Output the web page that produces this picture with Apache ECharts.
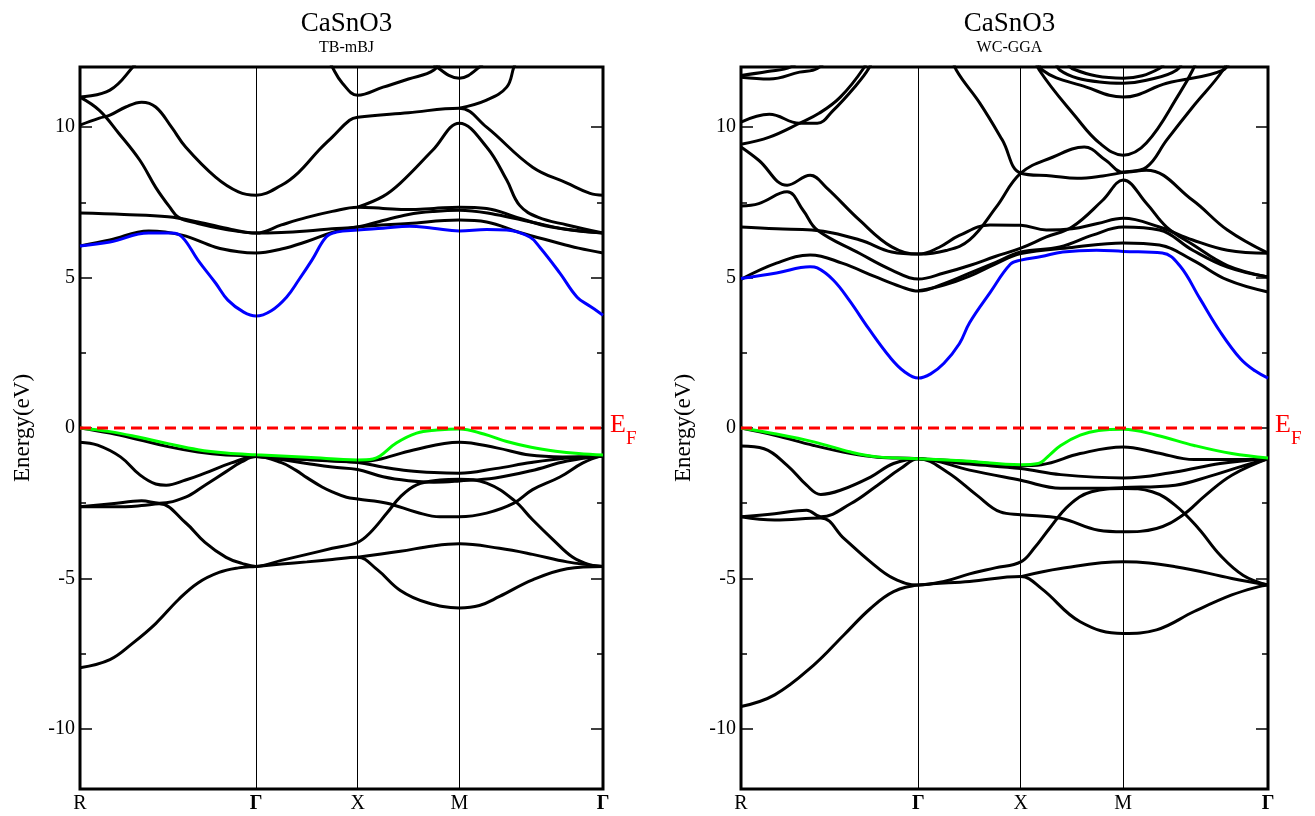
<!DOCTYPE html>
<html>
<head>
<meta charset="utf-8">
<script src="https://cdn.jsdelivr.net/npm/echarts@6/dist/echarts.min.js"></script>
<style>
  html, body { margin: 0; padding: 0; background: #fff; }
  #chart { width: 1315px; height: 816px; }
</style>
</head>
<body>
<div id="chart"></div>
<script>
// High-symmetry path R–Γ–X–M–Γ: cumulative |k| (units of π/a)
const K_POS = [0, 1.732, 2.732, 3.732, 5.146];
const K_LABELS = ['R', 'Γ', 'X', 'M', 'Γ'];
const Y_MAJOR = [-10, -5, 0, 5, 10];
const Y_MINOR = [-7.5, -2.5, 2.5, 7.5];
const PANEL_TITLES = ['CaSnO3', 'CaSnO3'];
const PANEL_SUBTITLES = ['TB-mBJ', 'WC-GGA'];

// Bands as [path parameter, E (eV)]; path parameter 0=R, 1=Γ, 2=X, 3=M, 4=Γ

// ---- TB-mBJ ----
const mbjVBM = [[0,0],[0.17,-0.12],[0.33,-0.3],[0.5,-0.52],[0.67,-0.72],[0.83,-0.83],[1,-0.89],[1.5,-0.97],[2,-1.06],[2.15,-1.03],[2.22,-0.93],[2.38,-0.5],[2.58,-0.17],[2.78,-0.07],[3,-0.03],[3.17,-0.2],[3.33,-0.45],[3.5,-0.64],[3.67,-0.77],[3.83,-0.85],[4,-0.9]];
const mbjCBM = [[0,6.05],[0.17,6.18],[0.39,6.48],[0.52,6.48],[0.58,6.35],[0.67,5.58],[0.77,4.82],[0.84,4.25],[0.93,3.85],[1,3.72],[1.15,3.9],[1.3,4.35],[1.42,4.92],[1.55,5.58],[1.69,6.35],[1.79,6.51],[2,6.58],[2.25,6.64],[2.51,6.71],[2.74,6.64],[3,6.55],[3.19,6.6],[3.33,6.58],[3.49,6.35],[3.56,6.01],[3.7,5.15],[3.82,4.35],[3.91,4.05],[4,3.75]];
const mbjV2 = [[0,0],[0.17,-0.17],[0.33,-0.38],[0.5,-0.62],[0.67,-0.8],[0.83,-0.9],[1,-0.93],[1.5,-1.05],[2,-1.15],[2.25,-1.3],[2.5,-1.42],[2.75,-1.48],[3,-1.5],[3.25,-1.35],[3.5,-1.15],[3.75,-1.0],[4,-0.93]];
const mbjV3 = [[0,-0.47],[0.1,-0.57],[0.23,-0.96],[0.34,-1.56],[0.43,-1.86],[0.49,-1.9],[0.6,-1.73],[0.71,-1.5],[0.86,-1.16],[1,-0.95],[1.25,-1.05],[1.5,-1.18],[1.75,-1.3],[2,-1.38],[2.25,-1.62],[2.5,-1.75],[2.75,-1.8],[3,-1.76],[3.25,-1.66],[3.5,-1.42],[3.75,-1.1],[4,-0.93]];
const mbjV4 = [[0,-2.62],[0.18,-2.52],[0.35,-2.42],[0.45,-2.5],[0.6,-2.3],[0.71,-1.9],[0.83,-1.45],[0.92,-1.12],[1,-0.95],[1.25,-1.15],[1.39,-1.4],[1.5,-1.65],[1.65,-1.96],[1.75,-2.12],[1.89,-2.3],[2,-2.36],[2.29,-2.5],[2.58,-2.8],[2.81,-2.95],[3,-2.95],[3.19,-2.83],[3.38,-2.5],[3.51,-2.05],[3.7,-1.63],[3.86,-1.16],[4,-0.9]];
const mbjV5 = [[0,-2.62],[0.2,-2.62],[0.35,-2.58],[0.45,-2.52],[0.6,-3.15],[0.71,-3.8],[0.83,-4.3],[0.92,-4.5],[1,-4.6],[1.25,-4.4],[1.5,-4.2],[1.75,-4.0],[2,-3.8],[2.12,-3.49],[2.29,-2.82],[2.42,-2.29],[2.58,-1.89],[2.81,-1.73],[3,-1.7],[3.19,-1.83],[3.38,-2.4],[3.51,-3.05],[3.65,-3.7],[3.79,-4.3],[3.91,-4.55],[4,-4.6]];
const mbjV6 = [[0,-7.97],[0.17,-7.7],[0.3,-7.15],[0.43,-6.5],[0.56,-5.7],[0.67,-5.15],[0.79,-4.8],[0.9,-4.65],[1,-4.6],[1.25,-4.52],[1.5,-4.45],[1.75,-4.37],[2,-4.3],[2.19,-4.7],[2.42,-5.4],[2.68,-5.8],[3,-5.98],[3.14,-5.9],[3.28,-5.6],[3.51,-5.05],[3.75,-4.68],[4,-4.6]];
const mbjV7 = [[2,-4.3],[2.42,-4.1],[2.74,-3.92],[3,-3.85],[3.28,-4.0],[3.51,-4.2],[3.75,-4.45],[4,-4.6]];
const mbjV8 = [[1,-0.95],[1.5,-1.05],[2,-1.12],[2.19,-1.06],[2.55,-0.73],[3,-0.47],[3.26,-0.66],[3.49,-0.9],[3.72,-0.96],[4,-0.93]];
const mbjC2 = [[0,6.05],[0.17,6.25],[0.39,6.55],[0.58,6.41],[0.77,6.01],[0.9,5.86],[1,5.82],[1.25,5.95],[1.5,6.2],[1.75,6.5],[2,6.68],[2.5,6.8],[3,6.91],[3.19,6.85],[3.42,6.5],[3.65,6.2],[3.83,5.98],[4,5.82]];
const mbjC3 = [[0,7.15],[0.25,7.1],[0.5,7.02],[0.67,6.85],[0.86,6.6],[1,6.48],[1.25,6.75],[1.5,7.0],[1.75,7.2],[2,7.34],[2.25,7.3],[2.5,7.26],[2.75,7.3],[3,7.34],[3.19,7.3],[3.4,7.0],[3.64,6.68],[4,6.48]];
const mbjC4 = [[0,11.0],[0.11,10.56],[0.22,9.8],[0.34,8.9],[0.43,8.0],[0.51,7.34],[0.56,7.0],[0.67,6.8],[0.83,6.6],[1,6.48],[1.25,6.5],[1.5,6.55],[1.75,6.62],[2,6.68],[2.25,6.9],[2.5,7.1],[2.75,7.2],[3,7.24],[3.25,7.1],[3.5,6.85],[3.75,6.6],[4,6.48]];
const mbjC5 = [[0,10.07],[0.11,10.3],[0.17,10.4],[0.26,10.67],[0.35,10.83],[0.43,10.67],[0.52,10.0],[0.6,9.34],[0.77,8.34],[0.9,7.85],[1,7.74],[1.25,8.07],[1.42,8.5],[1.62,9.24],[1.75,9.67],[1.92,10.23],[2,10.33],[2.5,10.48],[3,10.63],[3.19,10.0],[3.51,8.67],[3.75,8.14],[3.91,7.8],[4,7.74]];
const mbjC6 = [[2,7.34],[2.25,7.7],[2.42,8.14],[2.74,9.24],[3,10.13],[3.19,9.34],[3.33,8.24],[3.42,7.4],[3.55,7.0],[3.75,6.75],[4,6.48]];
const mbjC7 = [[0,11.0],[0.17,11.23],[0.3,12.0],[0.36,12.5]];
const mbjC8 = [[1.68,12.5],[1.75,12.0],[1.85,11.46],[2,11.06],[2.25,11.33],[2.5,11.6],[2.75,11.9],[2.85,12.4]];
const mbjC9 = [[2.7,12.4],[2.78,12.0],[3,11.63],[3.14,12.0],[3.2,12.4]];
const mbjC10 = [[3,10.63],[3.19,10.9],[3.33,11.33],[3.38,12.0],[3.42,12.5]];

// ---- WC-GGA ----
const ggaVBM = [[0,0],[0.19,-0.19],[0.41,-0.46],[0.62,-0.8],[0.77,-0.96],[1,-1.02],[1.46,-1.1],[2,-1.22],[2.17,-1.18],[2.28,-0.9],[2.39,-0.58],[2.58,-0.24],[2.76,-0.08],[3,-0.04],[3.23,-0.24],[3.49,-0.58],[3.75,-0.85],[4,-1.0]];
const ggaCBM = [[0,4.97],[0.2,5.15],[0.39,5.36],[0.43,5.32],[0.52,4.92],[0.61,4.25],[0.72,3.3],[0.84,2.35],[0.92,1.88],[1,1.66],[1.12,1.8],[1.25,2.15],[1.4,2.8],[1.5,3.5],[1.7,4.5],[1.9,5.45],[2,5.58],[2.2,5.7],[2.41,5.85],[2.74,5.91],[3,5.87],[3.27,5.82],[3.39,5.4],[3.53,4.3],[3.67,3.2],[3.81,2.3],[3.91,1.9],[4,1.66]];
const ggaV2 = [[0,0],[0.19,-0.24],[0.41,-0.58],[0.62,-0.85],[0.77,-0.97],[1,-1.02],[1.5,-1.2],[2,-1.35],[2.39,-1.55],[3,-1.66],[3.36,-1.46],[3.67,-1.18],[4,-1.02]];
const ggaV3 = [[0,-0.6],[0.13,-0.69],[0.26,-1.24],[0.37,-1.9],[0.45,-2.21],[0.56,-2.07],[0.73,-1.63],[0.86,-1.18],[1,-1.02],[1.5,-1.4],[2,-1.74],[2.39,-2.0],[2.76,-2.0],[3,-1.98],[3.36,-1.9],[3.6,-1.6],[3.8,-1.3],[4,-1.02]];
const ggaV4 = [[0,-2.95],[0.19,-2.85],[0.37,-2.73],[0.45,-2.95],[0.62,-2.51],[0.77,-1.9],[0.9,-1.35],[1,-1.02],[1.28,-1.46],[1.57,-2.23],[1.8,-2.79],[2,-2.88],[2.39,-3.0],[2.76,-3.4],[3,-3.45],[3.23,-3.34],[3.41,-2.9],[3.57,-2.23],[3.75,-1.57],[4,-1.02]];
const ggaV5 = [[0,-2.95],[0.19,-3.06],[0.45,-2.99],[0.58,-3.67],[0.73,-4.45],[0.86,-5.0],[1,-5.22],[1.25,-5.1],[1.5,-4.85],[1.75,-4.65],[2,-4.45],[2.13,-4.0],[2.28,-3.34],[2.47,-2.57],[2.69,-2.12],[3,-2.01],[3.2,-2.12],[3.36,-2.57],[3.52,-3.34],[3.67,-4.23],[3.83,-4.9],[4,-5.22]];
const ggaV6 = [[0,-9.26],[0.19,-8.87],[0.41,-7.88],[0.58,-6.88],[0.73,-6.0],[0.86,-5.44],[1,-5.22],[1.5,-5.1],[2,-4.94],[2.2,-5.33],[2.58,-6.44],[3,-6.83],[3.23,-6.71],[3.49,-6.1],[3.75,-5.55],[3.93,-5.28],[4,-5.22]];
const ggaV7 = [[2,-4.94],[2.39,-4.67],[3,-4.45],[3.36,-4.61],[3.75,-5.0],[4,-5.22]];
const ggaV8 = [[1,-1.02],[1.5,-1.12],[2,-1.25],[2.2,-1.22],[2.58,-0.85],[3,-0.63],[3.23,-0.82],[3.49,-1.05],[3.75,-1.05],[4,-1.02]];
const ggaC2 = [[0,6.68],[0.2,6.62],[0.4,6.58],[0.67,6.25],[0.85,5.85],[1,5.78],[1.2,6.0],[1.4,6.4],[1.7,6.75],[2,6.74],[2.25,6.58],[2.5,6.62],[2.75,6.8],[3,6.97],[3.25,6.68],[3.48,6.25],[3.72,5.91],[4,5.81]];
const ggaC3 = [[0,7.38],[0.1,7.46],[0.26,7.85],[0.35,7.24],[0.43,6.58],[0.67,5.8],[0.85,5.25],[1,4.95],[1.25,5.15],[1.5,5.4],[1.75,5.7],[2,5.98],[2.25,6.35],[2.5,6.68],[2.8,7.57],[3,8.24],[3.16,7.47],[3.3,6.68],[3.48,6.1],[3.72,5.4],[4,5.02]];
const ggaC4 = [[0,9.34],[0.1,8.9],[0.26,8.07],[0.39,8.4],[0.48,8.0],[0.67,6.9],[0.85,6.02],[1,5.78],[1.27,5.9],[1.5,6.25],[1.76,7.34],[2,8.47],[2.31,9.0],[2.62,9.34],[2.83,8.9],[3,8.5],[3.16,8.57],[3.48,7.57],[3.72,6.58],[4,5.81]];
const ggaC5 = [[0,4.94],[0.2,5.48],[0.39,5.75],[0.57,5.48],[0.76,5.02],[0.9,4.7],[1,4.55],[1.25,4.8],[1.5,5.15],[1.75,5.5],[2,5.85],[2.38,6.02],[2.7,6.41],[3,6.68],[3.25,6.58],[3.48,5.91],[3.72,5.35],[4,5.02]];
const ggaC6 = [[1,4.56],[1.25,4.75],[1.5,5.05],[1.75,5.45],[2,5.8],[2.5,6.0],[3,6.15],[3.25,6.08],[3.48,5.58],[3.72,4.92],[4,4.52]];
const ggaC7 = [[0,10.17],[0.16,10.43],[0.33,10.13],[0.43,10.13],[0.52,10.56],[0.64,11.33],[0.72,11.95],[0.75,12.4]];
const ggaC8 = [[0,9.43],[0.16,9.67],[0.33,10.13],[0.44,10.46],[0.56,11.0],[0.69,11.95],[0.72,12.4]];
const ggaC9 = [[0,11.66],[0.16,11.6],[0.33,11.83],[0.43,11.95],[0.5,12.4]];
const ggaC10 = [[0,11.72],[0.15,11.85],[0.28,12.0],[0.35,12.4]];
const ggaC11 = [[1.33,12.4],[1.37,11.9],[1.6,10.8],[1.82,9.57],[2,8.47],[2.3,8.38],[2.55,8.3],[2.8,8.38],[3,8.5],[3.16,8.67],[3.3,9.57],[3.48,10.67],[3.69,11.9],[3.73,12.4]];
const ggaC12 = [[2.14,12.4],[2.18,11.9],[2.54,10.33],[2.77,9.47],[3,9.07],[3.16,9.47],[3.39,11.13],[3.48,11.9],[3.52,12.4]];
const ggaC13 = [[2.17,12.4],[2.21,11.9],[2.64,11.33],[3,11.0],[3.3,11.46],[3.69,11.9],[3.75,12.4]];
const ggaC14 = [[2.34,12.4],[2.38,11.9],[2.77,11.5],[3,11.46],[3.16,11.56],[3.37,11.9],[3.42,12.4]];
const ggaC15 = [[2.45,12.4],[2.5,11.95],[3,11.63],[3.25,11.95],[3.3,12.4]];

const PANELS = [
  { black: [mbjV2, mbjV3, mbjV4, mbjV5, mbjV6, mbjV7, mbjV8, mbjC2, mbjC3, mbjC4, mbjC5, mbjC6, mbjC7, mbjC8, mbjC9, mbjC10], vbm: mbjVBM, cbm: mbjCBM },
  { black: [ggaV2, ggaV3, ggaV4, ggaV5, ggaV6, ggaV7, ggaV8, ggaC2, ggaC3, ggaC4, ggaC5, ggaC6, ggaC7, ggaC8, ggaC9, ggaC10, ggaC11, ggaC12, ggaC13, ggaC14, ggaC15], vbm: ggaVBM, cbm: ggaCBM }
];

// path parameter -> cumulative k distance
function toK(t) {
  const i = Math.max(0, Math.min(Math.floor(t), 3));
  return K_POS[i] + (t - i) * (K_POS[i + 1] - K_POS[i]);
}

const SERIF = 'Liberation Serif';
const GRIDS = [
  { left: 80, top: 67, width: 523, height: 722 },
  { left: 741, top: 67, width: 527, height: 722 }
];

const grid = GRIDS.map(g => ({ ...g, show: true, borderColor: '#000', borderWidth: 3, backgroundColor: 'transparent' }));

const xAxis = GRIDS.map((g, gi) => ({
  gridIndex: gi, type: 'value', min: 0, max: K_POS[4],
  axisLine: { show: false }, axisTick: { show: false }, splitLine: { show: false },
  axisLabel: {
    customValues: K_POS, margin: 5,
    formatter: v => {
      let idx = 0;
      K_POS.forEach((k, i) => { if (Math.abs(k - v) < Math.abs(K_POS[idx] - v)) idx = i; });
      const s = K_LABELS[idx];
      return s === 'Γ' ? '{g|Γ}' : '{n|' + s + '}';
    },
    rich: {
      g: { fontFamily: SERIF, fontSize: 20, fontWeight: 'bold', color: '#000' },
      n: { fontFamily: SERIF, fontSize: 20, color: '#000' }
    }
  }
}));

const yAxis = [];
GRIDS.forEach((g, gi) => {
  const base = { gridIndex: gi, type: 'value', min: -12, max: 12, axisLine: { show: false }, splitLine: { show: false } };
  const tickStyle = { color: '#000', width: 1.5 };
  yAxis.push({
    ...base, position: 'left',
    name: 'Energy(eV)', nameLocation: 'middle', nameGap: 46,
    nameTextStyle: { fontFamily: SERIF, fontSize: 23, color: '#000' },
    axisTick: { inside: true, length: 12, customValues: Y_MAJOR, lineStyle: tickStyle },
    axisLabel: { customValues: Y_MAJOR, margin: 5, fontFamily: SERIF, fontSize: 20, color: '#000' }
  });
  yAxis.push({ ...base, position: 'left', axisLabel: { show: false }, axisTick: { inside: true, length: 6, customValues: Y_MINOR, lineStyle: tickStyle } });
  yAxis.push({ ...base, position: 'right', axisLabel: { show: false }, axisTick: { inside: true, length: 12, customValues: Y_MAJOR, lineStyle: tickStyle } });
  yAxis.push({ ...base, position: 'right', axisLabel: { show: false }, axisTick: { inside: true, length: 6, customValues: Y_MINOR, lineStyle: tickStyle } });
});

function band(pts, gi, color, z) {
  return {
    type: 'line', xAxisIndex: gi, yAxisIndex: gi * 4,
    data: pts.map(p => [toK(p[0]), p[1]]),
    symbol: 'none', showSymbol: false, smooth: 0.4,
    silent: true, animation: false, clip: true, z,
    lineStyle: { color, width: 3 }
  };
}

const series = [];
PANELS.forEach((panel, gi) => {
  panel.black.forEach((pts, bi) => {
    const s = band(pts, gi, '#000000', 2);
    if (bi === 0) {
      s.markLine = {
        silent: true, symbol: 'none', animation: false,
        label: { show: false },
        lineStyle: { color: '#000', width: 1, type: 'solid' },
        data: [{ xAxis: K_POS[1] }, { xAxis: K_POS[2] }, { xAxis: K_POS[3] }]
      };
    }
    series.push(s);
  });
  series.push(band(panel.cbm, gi, '#0000ff', 3));
  series.push(band(panel.vbm, gi, '#00ff00', 4));
  // Fermi level
  series.push({
    type: 'line', xAxisIndex: gi, yAxisIndex: gi * 4,
    data: [[0, 0], [K_POS[4], 0]],
    symbol: 'none', silent: true, animation: false, z: 5,
    lineStyle: { color: '#ff0000', width: 3, type: [11, 6] },
    endLabel: {
      show: true, distance: 7, offset: [0, -3],
      formatter: '{e|E}{f|F}',
      rich: {
        e: { fontFamily: SERIF, fontSize: 26, color: '#ff0000' },
        f: { fontFamily: SERIF, fontSize: 19, color: '#ff0000', padding: [28, 0, 0, 0] }
      }
    }
  });
});

const title = GRIDS.map((g, gi) => ({
  text: PANEL_TITLES[gi], subtext: PANEL_SUBTITLES[gi],
  left: g.left + g.width / 2, top: 5, textAlign: 'center', itemGap: 3,
  textStyle: { fontFamily: SERIF, fontSize: 27, fontWeight: 'normal', color: '#000' },
  subtextStyle: { fontFamily: SERIF, fontSize: 16, color: '#000' }
}));

const chart = echarts.init(document.getElementById('chart'), null, { renderer: 'canvas' });
chart.setOption({ animation: false, backgroundColor: '#fff', title, grid, xAxis, yAxis, series });
</script>
</body>
</html>
